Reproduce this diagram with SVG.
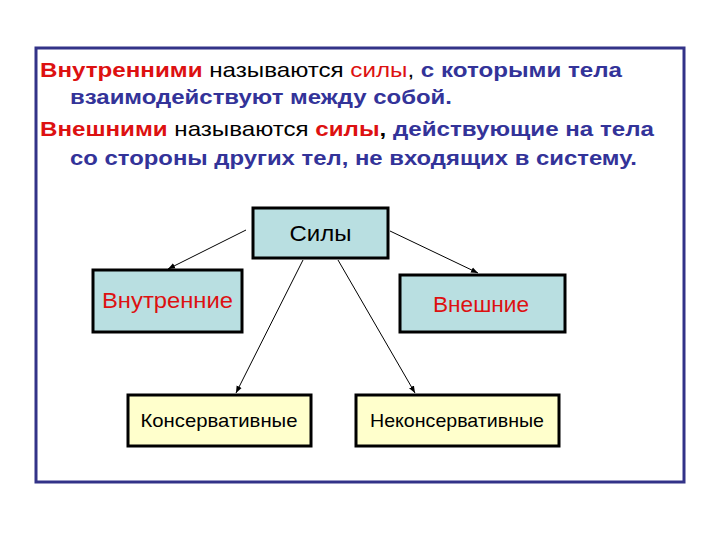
<svg xmlns="http://www.w3.org/2000/svg" width="720" height="540" viewBox="0 0 720 540">
<defs>
<marker id="ah" viewBox="0 0 10 10" refX="10" refY="5" markerWidth="7" markerHeight="7" markerUnits="userSpaceOnUse" orient="auto">
<path d="M0,1 L10,5 L0,9 Z" fill="#000"/>
</marker>
</defs>
<style>
text{font-family:"Liberation Sans",Arial,sans-serif}
.p{font-size:21px}
.b{font-weight:bold}
.r{fill:#DD1111}
.k{fill:#000}
.u{fill:#333399}
.box{stroke:#000;stroke-width:3}
.cy{fill:#B9DFE1}
.ye{fill:#FFFFCC}
.lbl{font-size:22px;text-anchor:middle}
.sm{font-size:19px;text-anchor:middle;fill:#000}
.con{stroke:#000;stroke-width:1;fill:none;marker-end:url(#ah)}
</style>
<rect x="0" y="0" width="720" height="540" fill="#fff"/>
<rect x="36" y="48" width="648" height="434" fill="#fff" stroke="#333388" stroke-width="3"/>
<text class="p" x="40" y="77" textLength="582" lengthAdjust="spacingAndGlyphs"><tspan class="b r">Внутренними</tspan><tspan class="k"> называются </tspan><tspan class="r">силы</tspan><tspan class="k">, </tspan><tspan class="b u">с которыми тела</tspan></text>
<text class="p b u" x="70" y="104" textLength="382" lengthAdjust="spacingAndGlyphs">взаимодействуют между собой.</text>
<text class="p" x="40" y="136" textLength="614" lengthAdjust="spacingAndGlyphs"><tspan class="b r">Внешними</tspan><tspan class="k"> называются </tspan><tspan class="b r">силы</tspan><tspan class="b k">, </tspan><tspan class="b u">действующие на тела</tspan></text>
<text class="p b u" x="70" y="165" textLength="567" lengthAdjust="spacingAndGlyphs">со стороны других тел, не входящих в систему.</text>
<g id="connectors">
<line class="con" x1="246" y1="230" x2="168" y2="269"/>
<line class="con" x1="390" y1="231" x2="478" y2="273"/>
<line class="con" x1="303" y1="260" x2="236" y2="393"/>
<line class="con" x1="338" y1="260" x2="415" y2="393"/>
</g>
<g id="sily">
<rect class="box cy" x="253" y="208" width="135" height="50"/>
<text class="lbl k" x="320.5" y="241" textLength="62" lengthAdjust="spacingAndGlyphs">Силы</text>
</g>
<g id="vnutrennie">
<rect class="box cy" x="93" y="270" width="149" height="62"/>
<text class="lbl r" x="167.5" y="308" textLength="131" lengthAdjust="spacingAndGlyphs">Внутренние</text>
</g>
<g id="vneshnie">
<rect class="box cy" x="400" y="275" width="165" height="57"/>
<text class="lbl r" x="481" y="312" textLength="96" lengthAdjust="spacingAndGlyphs">Внешние</text>
</g>
<g id="konserv">
<rect class="box ye" x="128" y="395" width="183" height="51"/>
<text class="sm" x="219" y="427" textLength="157" lengthAdjust="spacingAndGlyphs">Консервативные</text>
</g>
<g id="nekonserv">
<rect class="box ye" x="356" y="395" width="203" height="51"/>
<text class="sm" x="457" y="427" textLength="174" lengthAdjust="spacingAndGlyphs">Неконсервативные</text>
</g>
</svg>
